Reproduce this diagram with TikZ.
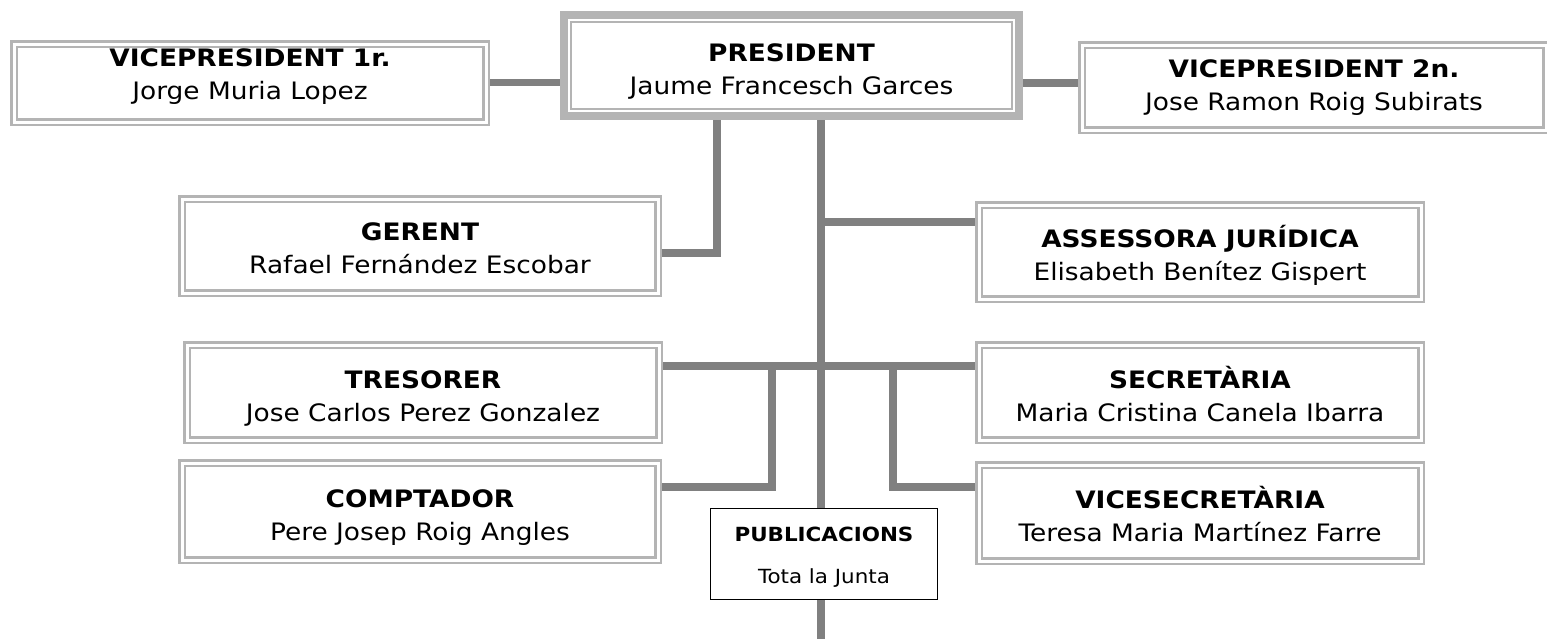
\documentclass[tikz,border=0pt]{standalone}
\usepackage{fontspec}
\setmainfont{DejaVu Sans}[FakeStretch=1.1]
\definecolor{bordc}{HTML}{B4B4B4}
\definecolor{connc}{HTML}{808080}
\newcommand{\orgtext}[2]{\rule{0pt}{24pt}\textbf{#1}\\#2}
\newcommand{\pubtext}[2]{\rule{0pt}{20pt}\textbf{#1}\\#2}
\begin{document}
\begin{tikzpicture}[x=1pt,y=-1pt,
  orgbox/.style={draw=bordc, line width=2.5pt, double=white, double distance=3pt,
    fill=white, inner sep=0pt, outer sep=4pt},
  presbox/.style={draw=bordc, line width=8pt, fill=white, inner sep=0pt, outer sep=4pt},
  inline/.style={draw=bordc, line width=2pt},
  txt/.style={anchor=north, inner sep=0pt, align=center,
    font=\fontsize{24}{33}\selectfont},
  pubtxt/.style={anchor=north, inner sep=0pt, align=center,
    font=\fontsize{19.5}{42}\selectfont},
  pubbox/.style={draw=black, line width=1.2pt, fill=white, inner sep=0pt, outer sep=0.6pt},
  conn/.style={draw=connc, line width=7.5pt, line join=miter, line cap=butt}]
\useasboundingbox (0,0) rectangle (1547,638);
\fill[white] (0,0) rectangle (1547,638);
% boxes
\node[orgbox, minimum width=472pt, minimum height=78pt] (vp1) at (250,83) {};
\node[presbox, minimum width=455pt, minimum height=101pt] (pres) at (791.5,65.5) {};
\draw[inline] ([shift={(11,11)}]pres.north west) rectangle ([shift={(-11,-11)}]pres.south east);
\node[orgbox, minimum width=464pt, minimum height=85pt] (vp2) at (1314,87.5) {};
\node[orgbox, minimum width=476pt, minimum height=94pt] (ger) at (420,246) {};
\node[orgbox, minimum width=442pt, minimum height=94pt] (ass) at (1200,252) {};
\node[orgbox, minimum width=472pt, minimum height=95pt] (tre) at (423,392.5) {};
\node[orgbox, minimum width=442pt, minimum height=95pt] (sec) at (1200,392.5) {};
\node[orgbox, minimum width=476pt, minimum height=97pt] (comp) at (420,511.5) {};
\node[orgbox, minimum width=442pt, minimum height=96pt] (vsec) at (1200,513) {};
\node[pubbox, minimum width=226.8pt, minimum height=90.8pt] (pub) at (824,554) {};
% texts
\node[txt] (vp1t) at (vp1.center |- 0,42.7) {\orgtext{VICEPRESIDENT 1r.}{Jorge Muria Lopez}};
\node[txt] (prest) at (pres.center |- 0,37.7) {\orgtext{PRESIDENT}{Jaume Francesch Garces}};
\node[txt] (vp2t) at (vp2.center |- 0,53) {\orgtext{VICEPRESIDENT 2n.}{Jose Ramon Roig Subirats}};
\node[txt] (gert) at (ger.center |- 0,216) {\orgtext{GERENT}{Rafael Fernández Escobar}};
\node[txt] (asst) at (ass.center |- 0,223) {\orgtext{ASSESSORA JURÍDICA}{Elisabeth Benítez Gispert}};
\node[txt] (tret) at (tre.center |- 0,364) {\orgtext{TRESORER}{Jose Carlos Perez Gonzalez}};
\node[txt] (sect) at (sec.center |- 0,364) {\orgtext{SECRETÀRIA}{Maria Cristina Canela Ibarra}};
\node[txt] (compt) at (comp.center |- 0,483) {\orgtext{COMPTADOR}{Pere Josep Roig Angles}};
\node[txt] (vsect) at (vsec.center |- 0,484) {\orgtext{VICESECRETÀRIA}{Teresa Maria Martínez Farre}};
\node[pubtxt] (pubt) at (pub.center |- 0,521) {\pubtext{PUBLICACIONS}{Tota la Junta}};
% helper coordinates
\coordinate (hyl) at (0,82.5);
\coordinate (hyr) at (0,83);
\coordinate (gx) at (717,0);
\coordinate (gy) at (0,253);
\coordinate (mx) at (821,0);
\coordinate (ay) at (0,222);
\coordinate (ty) at (0,366);
\coordinate (lx) at (772,0);
\coordinate (rx) at (893,0);
\coordinate (cy) at (0,487);
\coordinate (bot) at (821,645);
% connectors
\draw[conn] (vp1.east |- hyl) -- (pres.west |- hyl);
\draw[conn] (pres.east |- hyr) -- (vp2.west |- hyr);
\draw[conn] (gx |- pres.south) -- (gx |- gy) -- (ger.east |- gy);
\draw[conn] (mx |- pres.south) -- (mx |- pub.north);
\draw[conn] (mx |- pub.south) -- (bot);
\draw[conn] (mx |- ay) -- (ass.west |- ay);
\draw[conn] (tre.east |- ty) -- (sec.west |- ty);
\draw[conn] (lx |- ty) -- (lx |- cy) -- (comp.east |- cy);
\draw[conn] (rx |- ty) -- (rx |- cy) -- (vsec.west |- cy);
\end{tikzpicture}
\end{document}
